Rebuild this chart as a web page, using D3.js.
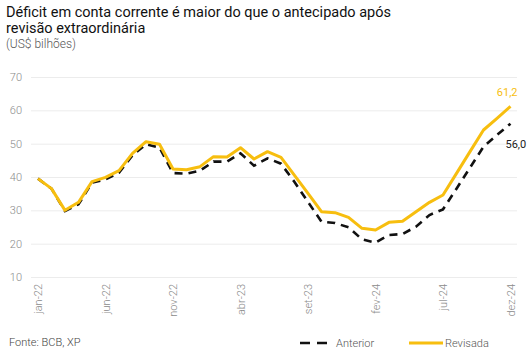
<!DOCTYPE html>
<html><head><meta charset="utf-8">
<script src="https://cdn.jsdelivr.net/npm/d3@7"></script>
<style>
html,body{margin:0;padding:0;background:#fff;}
svg{display:block;font-family:Roboto,"Noto Sans",sans-serif;}
</style></head>
<body>
<svg id="c" width="532" height="355"></svg>
<script>
const months = ["jan-22","fev-22","mar-22","abr-22","mai-22","jun-22","jul-22","ago-22","set-22","out-22","nov-22","dez-22",
"jan-23","fev-23","mar-23","abr-23","mai-23","jun-23","jul-23","ago-23","set-23","out-23","nov-23","dez-23",
"jan-24","fev-24","mar-24","abr-24","mai-24","jun-24","jul-24","ago-24","set-24","out-24","nov-24","dez-24"];
const tickLabels = ["jan-22","jun-22","nov-22","abr-23","set-23","fev-24","jul-24","dez-24"];
const yTicks = [10,20,30,40,50,60,70];
const revisada = [39.5,36.5,30.0,32.4,38.6,39.9,41.9,47.1,50.6,49.8,42.4,42.2,
43.1,46.1,46.0,48.8,45.4,47.6,45.9,40.5,35.1,29.6,29.3,27.9,
24.6,24.1,26.4,26.7,29.6,32.4,34.6,41.1,47.6,54.1,57.6,61.2];
const anterior = [39.5,36.5,29.8,31.8,38.3,39.3,41.3,46.5,49.8,48.8,41.2,41.0,
41.9,44.6,44.6,47.1,43.4,45.6,44.0,38.5,32.5,26.6,26.2,24.9,
21.3,20.3,22.6,22.9,25.1,28.6,30.3,36.5,42.8,49.1,52.6,56.0];
const seriesNames = ["Anterior","Revisada"];
const title1 = "Déficit em conta corrente é maior do que o antecipado após";
const title2 = "revisão extraordinária";
const subtitle = "(US$ bilhões)";
const source = "Fonte: BCB, XP";

const YELLOW = "#F7BE0F", GRID = "#ececec", GRAY = "#8a8a8a";
const svg = d3.select("#c");

const x = d3.scalePoint().domain(months).range([38, 510.5]);
const y = d3.scaleLinear().domain([10, 70]).range([277, 77]);

// titles
svg.append("text").attr("x", 6).attr("y", 17).attr("font-size", 14.5).attr("font-weight", 400).attr("fill", "#111").text(title1);
svg.append("text").attr("x", 6).attr("y", 33).attr("font-size", 14.5).attr("font-weight", 400).attr("fill", "#111").text(title2);
svg.append("text").attr("x", 6).attr("y", 48).attr("font-size", 12).attr("font-weight", 300).attr("fill", "#555").text(subtitle);

// grid + y axis
const yAxis = d3.axisLeft(y).tickValues(yTicks).tickSize(-(517 - 31)).tickPadding(9);
const gy = svg.append("g").attr("transform", "translate(31,0)").call(yAxis);
gy.select(".domain").remove();
gy.selectAll(".tick line").attr("stroke", GRID).attr("stroke-width", 1);
gy.selectAll(".tick text").attr("fill", GRAY).attr("font-size", 11).attr("font-family", "Roboto").attr("font-weight", 300);

// x axis
const xAxis = d3.axisBottom(x).tickValues(tickLabels).tickSize(0).tickPadding(0);
const gx = svg.append("g").attr("transform", "translate(0,284)").call(xAxis);
gx.select(".domain").remove();
gx.selectAll(".tick text")
  .attr("fill", GRAY).attr("font-size", 11).attr("font-family", "Roboto").attr("font-weight", 300)
  .attr("text-anchor", "end").attr("transform", "rotate(-90)")
  .attr("x", 0).attr("y", 0).attr("dx", 0).attr("dy", "0.35em");

// lines
const line = d3.line().x((d, i) => x(months[i])).y(d => y(d));
svg.append("path").datum(anterior).attr("d", line).attr("fill", "none")
  .attr("stroke", "#111").attr("stroke-width", 2.6).attr("stroke-dasharray", "8,6");
svg.append("path").datum(revisada).attr("d", line).attr("fill", "none")
  .attr("stroke", YELLOW).attr("stroke-width", 3).attr("stroke-linejoin", "round");

// end labels
const last = months.length - 1;
svg.append("text").attr("x", x(months[last]) + 7).attr("y", y(revisada[last]) - 10)
  .attr("text-anchor", "end").attr("font-size", 11).attr("fill", YELLOW).text(d3.format(".1f")(revisada[last]).replace(".", ","));
svg.append("text").attr("x", x(months[last]) - 5).attr("y", y(anterior[last]) + 24)
  .attr("font-size", 11).attr("fill", "#222").text(d3.format(".1f")(anterior[last]).replace(".", ","));

// source
svg.append("text").attr("x", 9).attr("y", 346).attr("font-size", 11).attr("font-weight", 300).attr("fill", "#444").text(source);

// legend
const lg = svg.append("g");
lg.append("line").attr("x1", 300).attr("x2", 327).attr("y1", 343).attr("y2", 343)
  .attr("stroke", "#111").attr("stroke-width", 2.6).attr("stroke-dasharray", "10,7");
lg.append("text").attr("x", 336).attr("y", 347).attr("font-size", 11).attr("font-weight", 300).attr("fill", "#555").text(seriesNames[0]);
lg.append("line").attr("x1", 409).attr("x2", 443).attr("y1", 343).attr("y2", 343)
  .attr("stroke", YELLOW).attr("stroke-width", 3);
lg.append("text").attr("x", 445).attr("y", 347).attr("font-size", 11).attr("font-weight", 300).attr("fill", "#555").text(seriesNames[1]);
</script>
</body></html>
